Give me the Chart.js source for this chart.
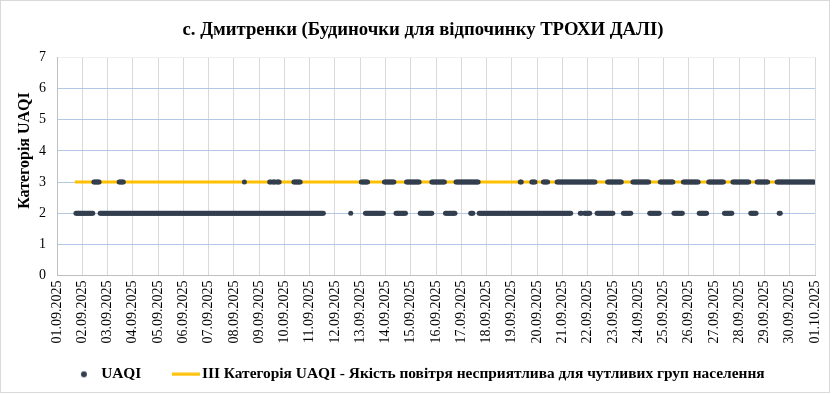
<!DOCTYPE html>
<html>
<head>
<meta charset="utf-8">
<script src="https://cdn.jsdelivr.net/npm/chart.js@4"></script>
<style>
  body { margin: 0; background: #fff; }
  #wrap { width: 828px; height: 391px; border: 1px solid #d9d9d9; }
</style>
</head>
<body>
<div id="wrap"><canvas id="uaqiChart"></canvas></div>
<script>
// x ticks: one per day
var dayLabels = ['01.09.2025', '02.09.2025', '03.09.2025', '04.09.2025', '05.09.2025', '06.09.2025',
    '07.09.2025', '08.09.2025', '09.09.2025', '10.09.2025', '11.09.2025', '12.09.2025', '13.09.2025',
    '14.09.2025', '15.09.2025', '16.09.2025', '17.09.2025', '18.09.2025', '19.09.2025', '20.09.2025',
    '21.09.2025', '22.09.2025', '23.09.2025', '24.09.2025', '25.09.2025', '26.09.2025', '27.09.2025',
    '28.09.2025', '29.09.2025', '30.09.2025', '01.10.2025'];

// hourly readings, as [first hour, last hour] counted from 01.09 00:00
var cat2Hours = [[18, 34], [41, 253], [279, 279], [293, 310], [322, 331], [345, 356], [369, 378],
    [393, 395], [401, 488], [497, 498], [501, 506], [513, 528], [538, 545], [563, 572], [586, 594],
    [610, 617], [634, 641], [659, 664], [686, 687]];
var cat3Hours = [[35, 40], [59, 63], [178, 178], [202, 203], [205, 207], [209, 211], [225, 231],
    [289, 295], [311, 320], [332, 344], [356, 368], [379, 400], [440, 441], [451, 454], [462, 466],
    [475, 511], [523, 536], [547, 562], [573, 585], [595, 609], [619, 633], [642, 657], [665, 675],
    [684, 719]];

// III category threshold line
var thresholdHours = [17, 720];
var thresholdValues = [3, 3];

var pointColor = '#333f4f';
var lineColor = '#ffc000';

var uaqiPoints = [];
cat2Hours.forEach(function (r) {
    for (var h = r[0]; h <= r[1]; h++) uaqiPoints.push({ x: h, y: 2 });
});
cat3Hours.forEach(function (r) {
    for (var h = r[0]; h <= r[1]; h++) uaqiPoints.push({ x: h, y: 3 });
});
var thresholdPoints = thresholdHours.map(function (h, i) {
    return { x: h, y: thresholdValues[i] };
});

// legend markers (box is 39 wide, marker canvases 50 wide centred on it)
var dotImg = document.createElement('canvas');
dotImg.width = 50; dotImg.height = 8;
var dctx = dotImg.getContext('2d');
dctx.fillStyle = pointColor;
dctx.beginPath(); dctx.arc(35, 4, 3, 0, Math.PI * 2); dctx.fill();

var lineImg = document.createElement('canvas');
lineImg.width = 50; lineImg.height = 4;
var lctx = lineImg.getContext('2d');
lctx.fillStyle = lineColor;
lctx.fillRect(22, 0.5, 28, 3);

var serif = "'Liberation Serif', 'Times New Roman', serif";

var ctx = document.getElementById('uaqiChart').getContext('2d');
var uaqiChart = new Chart(ctx, {
    type: 'scatter',
    data: {
        datasets: [{
            label: 'UAQI',
            data: uaqiPoints,
            backgroundColor: pointColor,
            borderWidth: 0,
            pointRadius: 2.5,
            pointHoverRadius: 2.5,
            showLine: false
        }, {
            label: 'ІІІ Категорія UAQI - Якість повітря несприятлива для чутливих груп населення       ',
            data: thresholdPoints,
            borderColor: lineColor,
            backgroundColor: lineColor,
            borderWidth: 3,
            pointRadius: 0,
            showLine: true
        }]
    },
    options: {
        responsive: true,
        maintainAspectRatio: false,
        animation: false,
        layout: { padding: { left: 30, right: 14, top: 0, bottom: 0 } },
        scales: {
            x: {
                type: 'linear',
                min: 0,
                max: 720,
                afterBuildTicks: function (scale) {
                    scale.ticks = dayLabels.map(function (d, i) { return { value: i * 24 }; });
                },
                afterFit: function (scale) {
                    scale.height = 77;
                    scale.paddingRight = 0;
                },
                ticks: {
                    autoSkip: false,
                    maxRotation: 90,
                    minRotation: 90,
                    padding: 5,
                    color: '#000',
                    font: { family: serif, size: 14 },
                    callback: function (v) { return dayLabels[Math.round(v / 24)]; }
                },
                grid: { color: '#d9d9d9', drawTicks: false },
                border: { color: '#bfbfbf' }
            },
            y: {
                min: 0,
                max: 7,
                afterFit: function (scale) { scale.width = 26; },
                ticks: {
                    stepSize: 1,
                    padding: 11,
                    color: '#000',
                    font: { family: serif, size: 14 }
                },
                grid: {
                    color: function (c) { return c.tick && c.tick.value === 7 ? '#eeeeee' : '#b4c7e7'; },
                    drawTicks: false
                },
                border: { color: '#bfbfbf' },
                title: {
                    display: true,
                    text: '        Категорія UAQI',
                    color: '#000',
                    padding: { top: -16, bottom: 0 },
                    font: { family: serif, size: 16, weight: 'bold' }
                }
            }
        },
        plugins: {
            title: {
                display: true,
                text: 'с. Дмитренки (Будиночки для відпочинку ТРОХИ ДАЛІ)',
                color: '#000',
                padding: { top: 18, bottom: 16 },
                font: { family: serif, size: 18.7, weight: 'bold' }
            },
            legend: {
                display: true,
                position: 'bottom',
                labels: {
                    usePointStyle: true,
                    pointStyleWidth: 39,
                    padding: 14,
                    color: '#000',
                    font: { family: serif, size: 15.4, weight: 'bold' },
                    generateLabels: function (chart) {
                        var items = Chart.defaults.plugins.legend.labels.generateLabels(chart);
                        items[0].pointStyle = dotImg;
                        items[1].pointStyle = lineImg;
                        return items;
                    }
                }
            },
            tooltip: { enabled: false }
        }
    }
});
</script>
</body>
</html>
